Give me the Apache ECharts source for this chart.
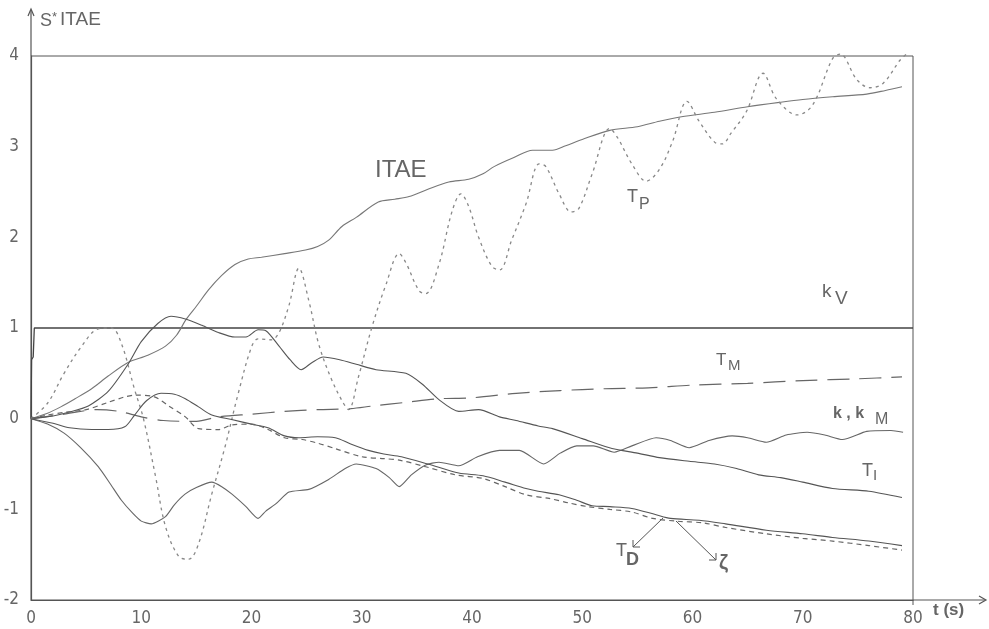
<!DOCTYPE html>
<html><head><meta charset="utf-8">
<script src="https://cdn.jsdelivr.net/npm/echarts@6/dist/echarts.min.js"></script>
<style>html,body{margin:0;padding:0;background:#fff}#c{width:989px;height:629px}</style>
</head><body><div id="c"></div>
<script>
// ---- tick labels ----
const xTicks = [0, 10, 20, 30, 40, 50, 60, 70, 80];
const yTicks = [-2, -1, 0, 1, 2, 3, 4];

// ---- series values: [t (s), S*ITAE] ----
const kV = [[0,0],[0.05,0.65],[0.2,0.68],[0.3,1.0],[80,1.0]];
const ITAE = [[0,0],[1.5,0.06],[2.7,0.13],[4,0.22],[5.5,0.33],[7,0.47],[8.8,0.62],[10.6,0.7],[12.2,0.8],[13.2,0.92],[14.1,1.1],[15,1.24],[16.1,1.42],[17.3,1.58],[18.5,1.7],[19.7,1.76],[20.9,1.78],[23,1.82],[24.9,1.86],[26,1.9],[27,1.97],[28.2,2.12],[29.5,2.22],[31.5,2.39],[33,2.42],[34.3,2.45],[36,2.53],[37.9,2.61],[39.7,2.64],[41,2.7],[42,2.78],[43.8,2.88],[45.5,2.96],[47.3,2.96],[48.5,3.01],[50,3.08],[52.5,3.18],[55,3.22],[57,3.28],[59,3.33],[62,3.38],[65,3.44],[68,3.49],[70,3.52],[72.7,3.55],[75.8,3.58],[77.5,3.62],[79,3.66]];
const TP = [[0,0],[1.5,0.17],[3,0.5],[4.6,0.8],[6.1,0.99],[7.3,1.0],[8.2,0.83],[9.4,0.32],[10.2,0.0],[11.3,-0.64],[12.2,-1.19],[13.4,-1.52],[14.3,-1.55],[15.2,-1.38],[16.4,-0.83],[17.6,-0.31],[18.8,0.28],[20,0.79],[20.6,0.88],[21.8,0.87],[22.5,0.95],[23.4,1.25],[24.3,1.66],[25.2,1.3],[26.1,0.82],[27.2,0.45],[28.2,0.2],[28.8,0.1],[29.7,0.46],[30.9,1.0],[32.2,1.48],[33.4,1.82],[34,1.72],[35.2,1.41],[35.8,1.38],[37,1.7],[38.2,2.29],[39,2.48],[39.7,2.34],[40.6,2.0],[41.8,1.68],[42.5,1.64],[43.6,1.97],[44.9,2.37],[46.1,2.81],[46.7,2.78],[47.9,2.48],[49,2.28],[49.7,2.32],[50.9,2.7],[52.5,3.2],[53.2,3.1],[54.5,2.81],[55.8,2.62],[57,2.75],[58.2,3.06],[59.5,3.5],[60.6,3.28],[62,3.05],[62.7,3.03],[63.5,3.15],[64.9,3.39],[66.4,3.81],[67.6,3.53],[69.5,3.35],[70.9,3.46],[72.7,3.97],[73.4,4.02],[74.9,3.74],[76.1,3.65],[77.3,3.7],[78.8,3.95],[79.5,4.03]];
const TM = [[0,0],[3,0.05],[6,0.1],[8,0.08],[10,0.02],[12,-0.02],[15,-0.03],[17,0.02],[20,0.05],[23,0.08],[26,0.1],[29,0.11],[31,0.14],[34,0.18],[37,0.22],[40,0.23],[44,0.28],[48,0.31],[52,0.33],[56,0.34],[60,0.37],[65,0.39],[70,0.42],[75,0.44],[79,0.46]];
const kkM = [[0,0],[1.5,-0.06],[3,-0.16],[4.5,-0.32],[6.1,-0.53],[7.2,-0.72],[8.2,-0.9],[9.2,-1.04],[10,-1.13],[10.9,-1.16],[12.2,-1.08],[13,-0.95],[14,-0.83],[15,-0.76],[16.4,-0.7],[17.3,-0.75],[18.2,-0.83],[19.5,-0.97],[20.6,-1.1],[21.3,-1.02],[22.2,-0.94],[23.4,-0.81],[25.2,-0.78],[27,-0.67],[28.5,-0.55],[29.5,-0.5],[31.3,-0.55],[32.5,-0.65],[33.4,-0.75],[34.5,-0.62],[35.8,-0.51],[37,-0.48],[38.8,-0.52],[40.5,-0.42],[42.5,-0.35],[44.3,-0.35],[46.5,-0.5],[48,-0.38],[49.5,-0.3],[51,-0.3],[52.9,-0.37],[54.5,-0.3],[56.7,-0.21],[58,-0.24],[59.7,-0.32],[61.5,-0.24],[63.6,-0.19],[65,-0.21],[66.7,-0.26],[68.5,-0.18],[70.4,-0.15],[72,-0.18],[73.6,-0.23],[75.8,-0.14],[78,-0.13],[79.1,-0.15]];
const TI = [[0,0],[2,0.03],[3.4,0.07],[5.2,0.14],[7,0.3],[8.8,0.6],[10,0.85],[11.5,1.05],[12.7,1.13],[14,1.1],[15.5,1.03],[17,0.95],[18.5,0.9],[19.5,0.9],[20.6,0.98],[21.3,0.97],[22.5,0.8],[23.5,0.65],[24.5,0.54],[25.5,0.62],[26.5,0.68],[28,0.65],[29.5,0.6],[31.3,0.54],[34,0.5],[35.5,0.38],[37,0.21],[38.8,0.08],[40.6,0.1],[42.5,0.02],[44,-0.02],[46,-0.08],[47.3,-0.11],[50,-0.22],[52.7,-0.33],[55,-0.38],[57,-0.43],[59.7,-0.47],[62,-0.5],[64,-0.55],[66,-0.62],[68,-0.65],[70,-0.7],[72.7,-0.77],[76,-0.8],[79,-0.87]];
const TD = [[0,0],[2,-0.05],[3.5,-0.1],[5.5,-0.12],[7,-0.12],[8.5,-0.09],[9.4,0.04],[10.5,0.2],[11.8,0.28],[13,0.27],[14,0.22],[15.2,0.13],[16.4,0.04],[18.2,-0.01],[20,-0.06],[21.5,-0.1],[23,-0.19],[24.3,-0.21],[26,-0.2],[27.6,-0.21],[29,-0.28],[30.6,-0.35],[32,-0.39],[33.6,-0.42],[36,-0.5],[38.8,-0.6],[41,-0.63],[43,-0.7],[44.9,-0.77],[46,-0.8],[47.9,-0.84],[49.5,-0.9],[50.9,-0.96],[52.5,-0.97],[54.5,-0.99],[56.7,-1.06],[58,-1.1],[60.6,-1.12],[63,-1.16],[66.7,-1.23],[70,-1.27],[72.7,-1.31],[76,-1.35],[79,-1.4]];
const zeta = [[0,0],[1.5,0.04],[3,0.07],[5,0.1],[7,0.18],[8.5,0.24],[9.4,0.26],[11.2,0.24],[12.5,0.14],[14,0.02],[15.2,-0.11],[17,-0.12],[18.2,-0.07],[20,-0.06],[21.5,-0.12],[23,-0.21],[24.6,-0.23],[26,-0.27],[27.6,-0.33],[30,-0.42],[32,-0.44],[33.5,-0.46],[35.8,-0.53],[38.5,-0.62],[41,-0.66],[43,-0.75],[44.9,-0.84],[47,-0.88],[48.8,-0.93],[50.5,-0.97],[52.5,-1.0],[54.5,-1.03],[56.4,-1.1],[58.5,-1.13],[61,-1.15],[63,-1.2],[66.7,-1.27],[70,-1.32],[72.7,-1.35],[76,-1.4],[79,-1.45]];

const tickFont = "'Liberation Sans Narrow','DejaVu Sans Condensed','Liberation Sans',sans-serif";
const labFont = "'Liberation Sans',Arial,sans-serif";
const txtCol = '#666';

function ser(name, data, color, type, width, smooth) {
  return { name, type: 'line', data, symbol: 'none', smooth, clip: false,
    lineStyle: { color, width, type }, z: 3 };
}

const chart = echarts.init(document.getElementById('c'), null, { renderer: 'canvas' });
chart.setOption({
  animation: false,
  backgroundColor: '#fff',
  grid: { left: 31, right: 76, top: 56, bottom: 29, show: true, borderColor: '#555', borderWidth: 1, backgroundColor: 'transparent' },
  xAxis: {
    type: 'value', min: xTicks[0], max: xTicks[xTicks.length - 1], interval: 10,
    axisLine: { show: true, onZero: false, lineStyle: { color: '#555', width: 1.2 } },
    axisTick: { show: false }, splitLine: { show: false },
    axisLabel: { color: txtCol, fontFamily: tickFont, fontSize: 17, margin: 10,
      formatter: v => xTicks.includes(v) ? String(v) : '' }
  },
  yAxis: {
    type: 'value', min: yTicks[0], max: yTicks[yTicks.length - 1], interval: 1,
    axisLine: { show: true, onZero: false, lineStyle: { color: '#555', width: 1.2 } },
    axisTick: { show: false }, splitLine: { show: false },
    axisLabel: { color: txtCol, fontFamily: tickFont, fontSize: 17, margin: 12,
      formatter: v => yTicks.includes(v) ? (v < 0 ? '-' + Math.abs(v) : String(v)) : '' }
  },
  series: [
    ser('kV', kV, '#444', 'solid', 1.3, false),
    ser('ITAE', ITAE, '#777', 'solid', 1.1, 0.3),
    ser('TP', TP, '#888', [3, 4], 1.3, 0.35),
    ser('TM', TM, '#666', [22, 10], 1.2, 0.3),
    ser('k, kM', kkM, '#666', 'solid', 1.1, 0.2),
    ser('TI', TI, '#555', 'solid', 1.1, 0.25),
    ser('TD', TD, '#555', 'solid', 1.1, 0.3),
    ser('zeta', zeta, '#666', [5, 4], 1.2, 0.3)
  ]
});

// axis arrows and annotations
const pTop = chart.convertToPixel({ gridIndex: 0 }, [0, 4]);
const pEnd = chart.convertToPixel({ gridIndex: 0 }, [80, -2]);
const lc = '#555';
function T(text, x, y, size, weight) {
  const t = { type: 'text', z: 10, style: { text, x, y, fill: txtCol, fontSize: size, fontFamily: labFont, verticalAlign: 'top' } };
  if (weight) t.style.fontWeight = weight;
  return t;
}
const g = [
  { type: 'line', shape: { x1: pTop[0], y1: pTop[1], x2: pTop[0], y2: 10 }, style: { stroke: lc, lineWidth: 1.2 } },
  { type: 'polyline', shape: { points: [[pTop[0] - 3, 16], [pTop[0], 9], [pTop[0] + 3, 16]] }, style: { stroke: lc, lineWidth: 1.2, fill: null } },
  { type: 'line', shape: { x1: pEnd[0], y1: pEnd[1], x2: 985, y2: pEnd[1] }, style: { stroke: lc, lineWidth: 1.2 } },
  { type: 'polyline', shape: { points: [[979, pEnd[1] - 4], [986, pEnd[1]], [979, pEnd[1] + 4]] }, style: { stroke: lc, lineWidth: 1.2, fill: null } },
  { type: 'line', shape: { x1: pEnd[0], y1: pEnd[1], x2: pEnd[0], y2: pEnd[1] + 5 }, style: { stroke: lc, lineWidth: 1 } },
  T('S', 40, 12, 18), T('*', 52, 11, 13), T('ITAE', 60, 10, 19),
  T('t (s)', 933, 602, 17, 'bold'),
  T('ITAE', 375, 158, 24),
  T('T', 627, 188, 18), T('P', 639, 197, 16),
  T('k', 822, 282, 19), T('V', 835, 289, 19),
  T('T', 716, 352, 17), T('M', 728, 358, 15),
  T('k , k', 833, 406, 16, 'bold'), T('M', 875, 412, 16),
  T('T', 862, 462, 18), T('I', 873, 468, 15),
  T('T', 616, 542, 18), T('D', 626, 551, 18, 'bold'),
  T('ζ', 719, 553, 20, 'bold'),
  { type: 'line', shape: { x1: 663, y1: 518, x2: 633, y2: 547 }, style: { stroke: lc, lineWidth: 1 } },
  { type: 'polyline', shape: { points: [[633, 540], [633, 547], [640, 547]] }, style: { stroke: lc, lineWidth: 1, fill: null } },
  { type: 'line', shape: { x1: 676, y1: 521, x2: 716, y2: 560 }, style: { stroke: lc, lineWidth: 1 } },
  { type: 'polyline', shape: { points: [[709, 560], [716, 560], [716, 553]] }, style: { stroke: lc, lineWidth: 1, fill: null } }
];
chart.setOption({ graphic: g });
</script>
</body></html>
